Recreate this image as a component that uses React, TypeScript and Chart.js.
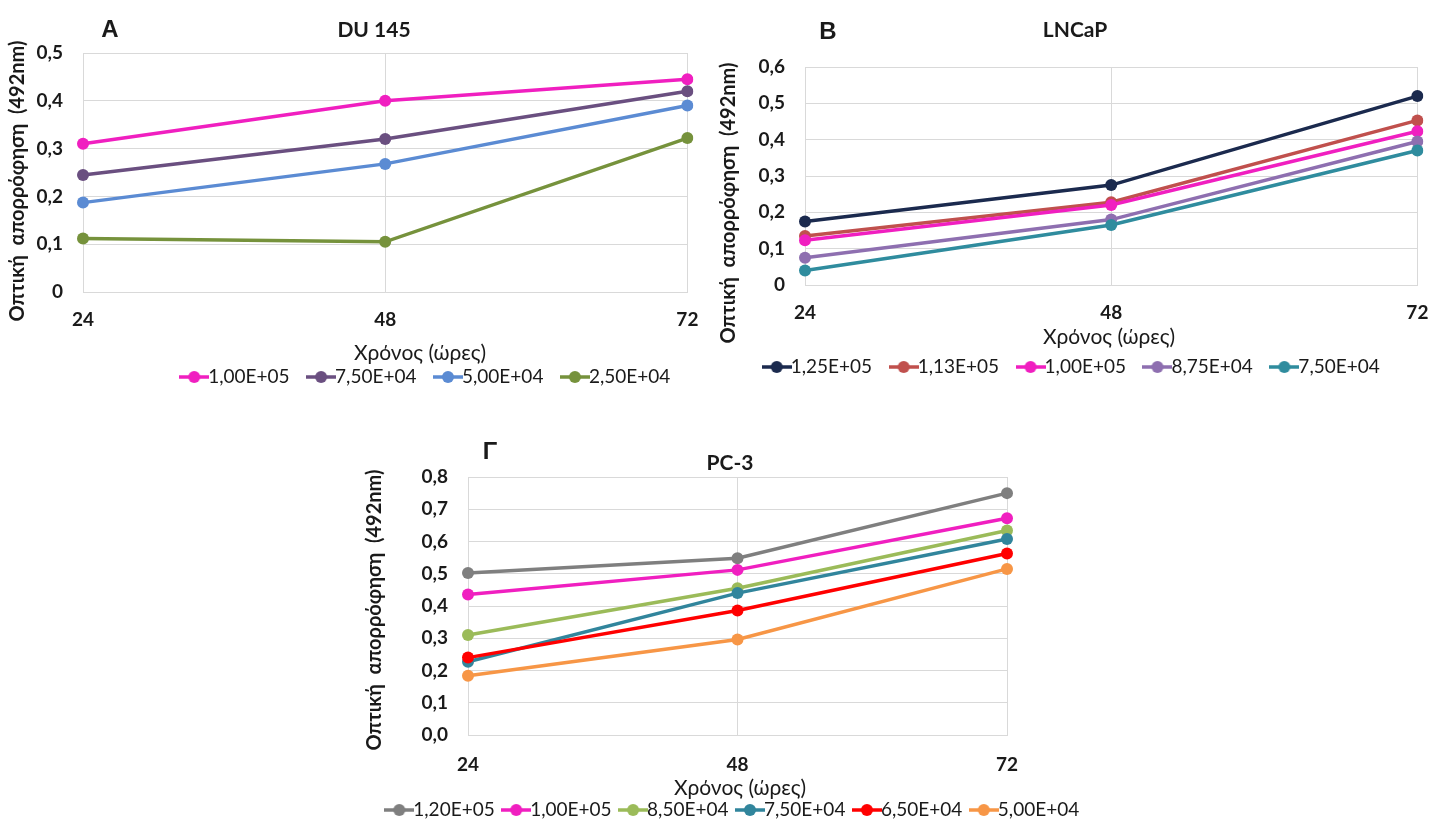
import React, { useEffect, useRef } from "react";
import { Chart, registerables } from "chart.js";

Chart.register(...registerables);

// ---------- shared ----------
const hours = ["24", "48", "72"];
const xAxisTitle = "Χρόνος (ώρες)";
const yAxisTitle = "Οπτική  απορρόφηση  (492nm)";

// ---------- Panel A – DU 145 ----------
const duLabels = ["1,00E+05", "7,50E+04", "5,00E+04", "2,50E+04"];
const du_1_00E5 = [0.31, 0.4, 0.445];
const du_7_50E4 = [0.245, 0.32, 0.42];
const du_5_00E4 = [0.187, 0.268, 0.39];
const du_2_50E4 = [0.112, 0.105, 0.322];
const duColors = ["#F01FC0", "#6A4F80", "#5B8BD3", "#76923C"];

// ---------- Panel B – LNCaP ----------
const lnLabels = ["1,25E+05", "1,13E+05", "1,00E+05", "8,75E+04", "7,50E+04"];
const ln_1_25E5 = [0.175, 0.275, 0.52];
const ln_1_13E5 = [0.135, 0.228, 0.453];
const ln_1_00E5 = [0.123, 0.22, 0.423];
const ln_8_75E4 = [0.075, 0.18, 0.395];
const ln_7_50E4 = [0.04, 0.165, 0.37];
const lnColors = ["#1B2A4E", "#C0504D", "#F01FC0", "#8E6FB0", "#2F8C9E"];

// ---------- Panel Γ – PC-3 ----------
const pcLabels = ["1,20E+05", "1,00E+05", "8,50E+04", "7,50E+04", "6,50E+04", "5,00E+04"];
const pc_1_20E5 = [0.502, 0.548, 0.75];
const pc_1_00E5 = [0.436, 0.512, 0.672];
const pc_8_50E4 = [0.31, 0.455, 0.634];
const pc_7_50E4 = [0.227, 0.44, 0.608];
const pc_6_50E4 = [0.24, 0.386, 0.563];
const pc_5_00E4 = [0.184, 0.296, 0.515];
const pcColors = ["#7F7F7F", "#F01FC0", "#9BBB59", "#31859C", "#FF0000", "#F79646"];

const FONT = "Lato, 'Open Sans', sans-serif";
const TEXT = "#1a1a1a";
const GRID = "#D9D9D9";
const LEGEND_FONT = 19;
const TICK_FONT = 19;
const MARKER_BOX = 9;

type Spec = {
  box: { left: number; top: number; width: number; height: number };
  plot: { left: number; top: number; right: number; bottom: number };
  yMax: number;
  zeroLabel: string;
  letter: string;
  letterPos: [number, number];
  title: string;
  titlePos: [number, number];
  yTitlePos: [number, number];
  xTitlePos: [number, number];
  legendCenter: [number, number];
  legendPad: number;
  tickY: number;
  labels: string[];
  series: number[][];
  colors: string[];
};

const specA: Spec = {
  box: { left: 0, top: 0, width: 715, height: 410 },
  plot: { left: 83, top: 53, right: 697, bottom: 292 },
  yMax: 0.5,
  zeroLabel: "0",
  letter: "A",
  letterPos: [110, 30],
  title: "DU 145",
  titlePos: [374, 30],
  yTitlePos: [18, 181],
  xTitlePos: [420, 353],
  legendCenter: [430, 377],
  legendPad: 27,
  tickY: 320,
  labels: duLabels,
  series: [du_1_00E5, du_7_50E4, du_5_00E4, du_2_50E4],
  colors: duColors,
};

const specB: Spec = {
  box: { left: 715, top: 0, width: 730, height: 410 },
  plot: { left: 90, top: 67, right: 715, bottom: 285 },
  yMax: 0.6,
  zeroLabel: "0",
  letter: "B",
  letterPos: [113, 32],
  title: "LNCaP",
  titlePos: [360, 30],
  yTitlePos: [14, 203],
  xTitlePos: [394, 337],
  legendCenter: [361, 367],
  legendPad: 27,
  tickY: 313,
  labels: lnLabels,
  series: [ln_1_25E5, ln_1_13E5, ln_1_00E5, ln_8_75E4, ln_7_50E4],
  colors: lnColors,
};

const specG: Spec = {
  box: { left: 330, top: 410, width: 820, height: 440 },
  plot: { left: 138, top: 67, right: 677, bottom: 325 },
  yMax: 0.8,
  zeroLabel: "0,0",
  letter: "Γ",
  letterPos: [160, 42],
  title: "PC-3",
  titlePos: [400, 53],
  yTitlePos: [45, 200],
  xTitlePos: [410, 378],
  legendCenter: [407, 400],
  legendPad: 17,
  tickY: 355,
  labels: pcLabels,
  series: [pc_1_20E5, pc_1_00E5, pc_8_50E4, pc_7_50E4, pc_6_50E4, pc_5_00E4],
  colors: pcColors,
};

function makeMarker(color: string): HTMLCanvasElement {
  const c = document.createElement("canvas");
  c.width = 30;
  c.height = 14;
  const g = c.getContext("2d")!;
  g.strokeStyle = color;
  g.lineWidth = 3.5;
  g.beginPath();
  g.moveTo(0, 7);
  g.lineTo(30, 7);
  g.stroke();
  g.fillStyle = color;
  g.beginPath();
  g.arc(15, 7, 6, 0, Math.PI * 2);
  g.fill();
  return c;
}

function Panel({ spec }: { spec: Spec }) {
  const ref = useRef<HTMLCanvasElement>(null);

  useEffect(() => {
    const canvas = ref.current!;
    const markers = spec.colors.map(makeMarker);
    const { plot, box } = spec;
    const pad = spec.legendPad;
    const legendTop = spec.legendCenter[1] - (pad + LEGEND_FONT / 2);
    const legendHeight = LEGEND_FONT + pad + 10;
    const padBottom = box.height - (legendTop + legendHeight);

    const panelText = {
      id: "panelText",
      afterDraw(chart: any) {
        const ctx = chart.ctx as CanvasRenderingContext2D;
        ctx.save();
        ctx.fillStyle = TEXT;
        ctx.textAlign = "center";
        ctx.textBaseline = "middle";
        ctx.font = "bold 24px 'Liberation Sans', Arial, sans-serif";
        ctx.fillText(spec.letter, spec.letterPos[0], spec.letterPos[1]);
        ctx.font = `bold 21px ${FONT}`;
        ctx.fillText(spec.title, spec.titlePos[0], spec.titlePos[1]);
        ctx.font = `21px ${FONT}`;
        ctx.fillText(xAxisTitle, spec.xTitlePos[0], spec.xTitlePos[1]);
        ctx.translate(spec.yTitlePos[0], spec.yTitlePos[1]);
        ctx.rotate(-Math.PI / 2);
        ctx.font = `bold 20px ${FONT}`;
        ctx.fillText(yAxisTitle, 0, 0);
        ctx.restore();
      },
    };

    const legendShift = {
      id: "legendShift",
      afterLayout(chart: any) {
        const lg = chart.legend;
        if (!lg) return;
        const dx = spec.legendCenter[0] - (lg.left + lg.right) / 2;
        lg.left += dx;
        lg.right += dx;
      },
    };

    const chart = new Chart(canvas, {
      type: "line",
      data: {
        labels: hours,
        datasets: spec.series.map((values, i) => ({
          label: spec.labels[i],
          data: values,
          borderColor: spec.colors[i],
          backgroundColor: spec.colors[i],
          pointBackgroundColor: spec.colors[i],
          pointBorderColor: spec.colors[i],
          pointBorderWidth: 0,
          pointRadius: 6,
          borderWidth: 3.5,
          tension: 0,
          order: -i,
          yAxisID: "y",
        })),
      },
      options: {
        responsive: false,
        animation: false,
        layout: { padding: { top: plot.top, left: 0, right: 0, bottom: padBottom } },
        plugins: {
          title: { display: false },
          tooltip: { enabled: false },
          legend: {
            display: true,
            position: "bottom",
            align: "center",
            labels: {
              usePointStyle: true,
              pointStyleWidth: MARKER_BOX,
              padding: pad,
              color: TEXT,
              font: { family: FONT, size: LEGEND_FONT },
              generateLabels: (ch: any) => {
                const items = (Chart.defaults.plugins.legend.labels as any).generateLabels(ch);
                items.sort((a: any, b: any) => a.datasetIndex - b.datasetIndex);
                return items.map((it: any) => ({ ...it, pointStyle: markers[it.datasetIndex] }));
              },
            },
          },
        },
        scales: {
          x: {
            type: "category",
            offset: false,
            grid: { color: GRID, lineWidth: 1, drawTicks: false },
            border: { color: GRID },
            ticks: {
              color: TEXT,
              font: { family: FONT, size: TICK_FONT, weight: "bold" },
              padding: spec.tickY - plot.bottom - (TICK_FONT * 1.2) / 2,
              maxRotation: 0,
            },
            afterFit: (s: any) => {
              s.height = legendTop - plot.bottom;
            },
          },
          y: {
            position: "left",
            min: 0,
            max: spec.yMax,
            grid: { color: GRID, lineWidth: 1, drawTicks: false },
            border: { color: GRID },
            ticks: {
              stepSize: 0.1,
              color: TEXT,
              font: { family: FONT, size: TICK_FONT, weight: "bold" },
              padding: 20,
              callback: (v: any) => {
                const n = Number(v);
                if (Math.abs(n) < 1e-9) return spec.zeroLabel;
                return n.toFixed(1).replace(".", ",");
              },
            },
            afterFit: (s: any) => {
              s.width = plot.left;
            },
          },
          yR: {
            position: "right",
            display: true,
            min: 0,
            max: spec.yMax,
            grid: { display: false, drawTicks: false },
            border: { display: false },
            ticks: { display: false },
            afterFit: (s: any) => {
              s.width = box.width - plot.right;
            },
          },
        },
      } as any,
      plugins: [panelText, legendShift],
    });

    return () => chart.destroy();
  }, [spec]);

  return (
    <canvas
      ref={ref}
      width={spec.box.width}
      height={spec.box.height}
      style={{
        position: "absolute",
        left: spec.box.left,
        top: spec.box.top,
        width: spec.box.width,
        height: spec.box.height,
      }}
    />
  );
}

export default function App() {
  return (
    <div
      style={{
        position: "absolute",
        left: 0,
        top: 0,
        width: 1445,
        height: 821,
        overflow: "hidden",
        background: "#ffffff",
      }}
    >
      <Panel spec={specA} />
      <Panel spec={specB} />
      <Panel spec={specG} />
    </div>
  );
}
